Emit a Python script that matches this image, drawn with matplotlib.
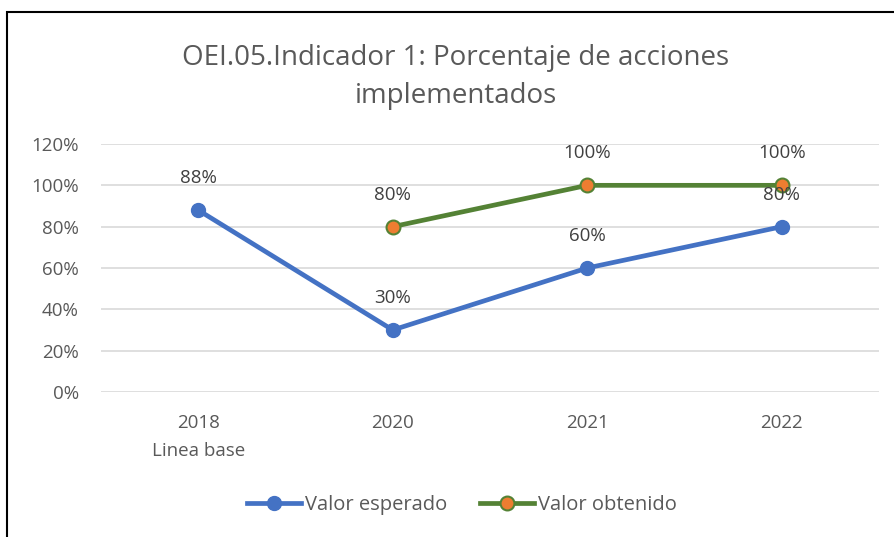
import matplotlib
matplotlib.use("Agg")
import matplotlib.pyplot as plt
from matplotlib.patches import Rectangle
from matplotlib.lines import Line2D

categories = ["2018\nLinea base", "2020", "2021", "2022"]
esperado = [88, 30, 60, 80]
obtenido_x = [1, 2, 3]
obtenido = [80, 100, 100]
yticks = [0, 20, 40, 60, 80, 100, 120]
ytick_labels = ["0%", "20%", "40%", "60%", "80%", "100%", "120%"]

FONT = ["Open Sans", "DejaVu Sans"]
plt.rcParams['font.family'] = FONT
TXT = "#595959"
BLUE = "#4472C4"
GREEN = "#548235"
ORANGE = "#ED7D31"

fig = plt.figure(figsize=(8.95, 5.37), dpi=100)
# frame border (only left and top visible)
fig.add_artist(Rectangle((7/895, -0.1), 1.2, 1 - 12/537 + 0.1, transform=fig.transFigure,
                         fill=False, edgecolor="black", linewidth=1.5))

ax = fig.add_axes([101/895, 1 - 392/537, 778/895, 248/537])
ax.set_xlim(-0.5, 3.5)
ax.set_ylim(0, 120)
ax.set_yticks(yticks)
ax.set_yticklabels(ytick_labels)
ax.set_xticks(range(len(categories)))
ax.set_xticklabels(categories, linespacing=1.7)
ax.grid(axis='y', color="#D9D9D9", linewidth=1.2)
ax.set_axisbelow(True)
for s in ax.spines.values():
    s.set_visible(False)
ax.tick_params(length=0, labelsize=13.5, colors=TXT)
ax.tick_params(axis='y', pad=16)
ax.tick_params(axis='x', pad=16)
for lbl in ax.get_yticklabels() + ax.get_xticklabels():
    lbl.set_color(TXT)

ax.plot(range(len(esperado)), esperado, color=BLUE, linewidth=3.4, marker='o',
        markersize=10, markerfacecolor=BLUE, markeredgecolor=BLUE, solid_capstyle='round',
        label="Valor esperado", zorder=3, clip_on=False)
ax.plot(obtenido_x, obtenido, color=GREEN, linewidth=3.4, marker='o',
        markersize=10, markerfacecolor=ORANGE, markeredgecolor=GREEN, markeredgewidth=1.5,
        solid_capstyle='round', label="Valor obtenido", zorder=3, clip_on=False)

for i, v in enumerate(esperado):
    ax.annotate(f"{v}%", (i, v), xytext=(0, 23), textcoords='offset points',
                ha='center', va='center', fontsize=13.5, color="#404040", zorder=5)
for x, v in zip(obtenido_x, obtenido):
    ax.annotate(f"{v}%", (x, v), xytext=(0, 23), textcoords='offset points',
                ha='center', va='center', fontsize=13.5, color="#404040", zorder=5)

fig.text(456/895, 1 - 77/537, "OEI.05.Indicador 1: Porcentaje de acciones\nimplementados",
         ha='center', va='center', fontsize=20, color=TXT, linespacing=1.45)

handles = [Line2D([], [], color=BLUE, linewidth=3.4, marker='o', markersize=10,
                  markerfacecolor=BLUE, markeredgecolor=BLUE),
           Line2D([], [], color=GREEN, linewidth=3.4, marker='o', markersize=10,
                  markerfacecolor=ORANGE, markeredgecolor=GREEN, markeredgewidth=1.5)]
leg = fig.legend(handles, ["Valor esperado", "Valor obtenido"], loc='center',
                 bbox_to_anchor=(462/895, 1 - 505/537), ncol=2, frameon=False,
                 fontsize=14.5, handlelength=2.7, handletextpad=0.2, columnspacing=1.6)
for t in leg.get_texts():
    t.set_color(TXT)

fig.savefig("out.png", dpi=100)
